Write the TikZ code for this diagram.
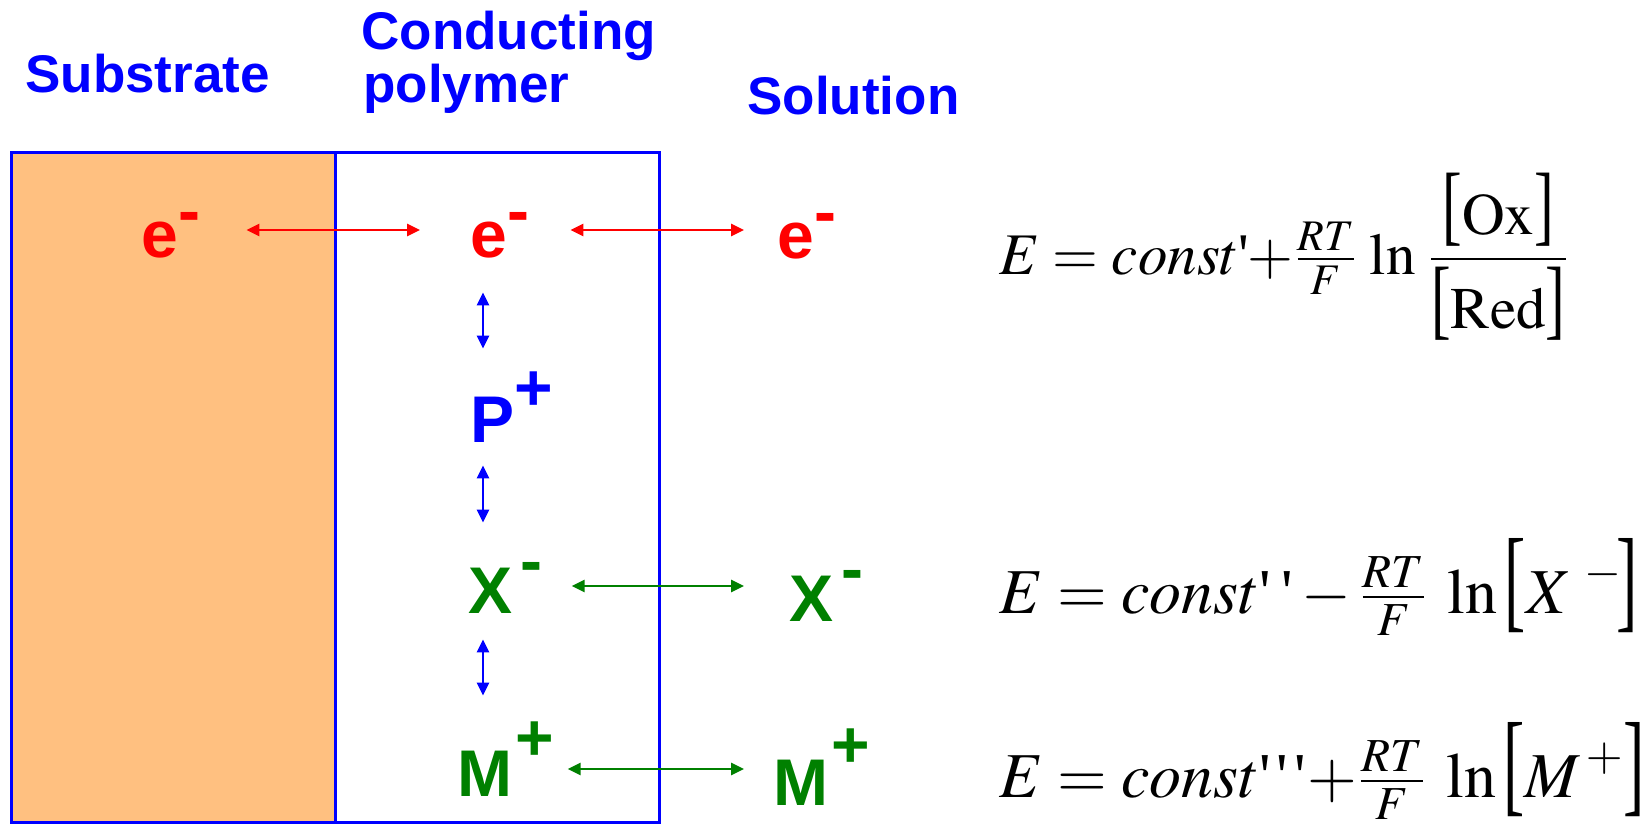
\documentclass[tikz,border=0pt]{standalone}
\usepackage{amsmath}
\usepackage{graphicx}
\usepackage{mathptmx}
\usepackage{fontspec}
\setmainfont{Liberation Serif}
\setsansfont{Liberation Sans}
\usetikzlibrary{arrows.meta}
\definecolor{substrate}{RGB}{255,192,128}
\definecolor{iongreen}{RGB}{0,128,0}
\newcommand{\chg}[2]{\raisebox{#1}{#2}}
\newcommand{\tall}[3]{\mbox{\raisebox{#2}{\scalebox{1}[#1]{#3}}}}

\begin{document}
\begin{tikzpicture}[x=0.5pt,y=0.5pt,yscale=-1,
  head/.style={text=blue,font=\fontsize{26.5}{26.5}\selectfont\sffamily\bfseries,inner sep=0pt,anchor=base west},
  ion/.style={font=\fontsize{33}{33}\selectfont\sffamily\bfseries,inner sep=0pt,anchor=base west,text height=27pt,text depth=0pt},
  eqn/.style={font=\fontsize{29.5}{35}\selectfont,inner sep=0pt,anchor=base west},
  link/.style={line width=1.3pt,{Triangle[length=6.5pt,width=6pt]}-{Triangle[length=6.5pt,width=6pt]}}]
\useasboundingbox (0,0) rectangle (1643,829);
%Shape: Rectangle (substrate)
\fill[substrate] (11,152) rectangle (335,822);
%Shape: Rectangle (polymer film)
\draw[blue,line width=1.5pt] (11,152) rectangle (659,822);
%Straight Lines
\draw[blue,line width=1.5pt] (335,152) -- (335,822);
% Text Node
\node[head] (substrate) at (25,93) {Substrate};
% Text Node
\node[head] (conducting) at (361,50) {Conducting};
\node[head] (polymer) at (363,103) {polymer};
% Text Node
\node[head] (solution) at (747,114) {Solution};
% Ions
\node[ion,text=red] (eS) at (141,257) {e\chg{0.355em}{-}};
\node[ion,text=red] (eP) at (470,257) {e\chg{0.355em}{-}};
\node[ion,text=red] (eL) at (777,258) {e\chg{0.36em}{-}};
\node[ion,text=blue] (pP) at (470,442) {P\chg{0.48em}{+}};
\node[ion,text=iongreen] (xP) at (468,613) {X\hspace{0.12em}\chg{0.45em}{-}};
\node[ion,text=iongreen] (xL) at (789,621) {X\hspace{0.12em}\chg{0.45em}{-}};
\node[ion,text=iongreen] (mP) at (457,796) {M\hspace{0.05em}\chg{0.54em}{+}};
\node[ion,text=iongreen] (mL) at (773,805) {M\hspace{0.05em}\chg{0.57em}{+}};
%Straight Lines (electron exchange)
\draw[link,red,shorten <=23pt,shorten >=25pt] (eS.east |- eP) -- (eP.west);
\draw[link,red,shorten <=20.5pt,shorten >=16.5pt] (eP.east) -- (eP.east -| eL.west);
%Straight Lines (ion exchange)
\draw[link,iongreen,shorten <=14.5pt,shorten >=22.5pt] (xP.east) -- (xP.east -| xL.west);
\draw[link,iongreen,shorten <=6.5pt,shorten >=14.5pt] (mP.east) -- (mP.east -| mL.west);
%Straight Lines (inside the film)
\draw[link,blue,shorten <=17.5pt,shorten >=19.5pt] ([xshift=6.5pt]eP.south west) -- ([xshift=6.5pt]eP.south west |- pP.north);
\draw[link,blue,shorten <=11.5pt,shorten >=18pt] ([xshift=6.5pt]pP.south west) -- ([xshift=6.5pt]pP.south west |- xP.north);
\draw[link,blue,shorten <=13pt,shorten >=23pt] ([xshift=6.5pt]pP.south west |- xP.south) -- ([xshift=6.5pt]pP.south west |- mP.north);
% Text Node
\node[eqn] (eqOx) at (999,274) {$\displaystyle E = const\text{\textquotesingle}\mkern-3mu+\mkern-2mu\tfrac{RT}{F}\,\ln\,\frac{\tall{1.5}{0pt}{[}\mathrm{Ox}\tall{1.5}{0pt}{]}}{\tall{1.5}{0pt}{[}\mathrm{Red}\tall{1.5}{0pt}{]}}$};
% Text Node
\node[eqn,font=\fontsize{32}{38}\selectfont] (eqX) at (999,613) {$\displaystyle E = const\text{\textquotesingle\,\textquotesingle}-\tfrac{RT}{F}\;\ln\tall{1.78}{-0.07em}{[}X^{\mkern5mu -}\mkern-1.5mu\tall{1.78}{-0.07em}{]}$};
% Text Node
\node[eqn,font=\fontsize{32}{38}\selectfont] (eqM) at (999,797) {$\displaystyle E = const\text{\textquotesingle\kern3pt\textquotesingle\kern3pt\textquotesingle}\mkern-2mu+\mkern-2mu\tfrac{RT}{F}\;\ln\tall{1.78}{-0.07em}{[}M^{\mkern2mu +}\tall{1.78}{-0.07em}{]}$};
\end{tikzpicture}
\end{document}
